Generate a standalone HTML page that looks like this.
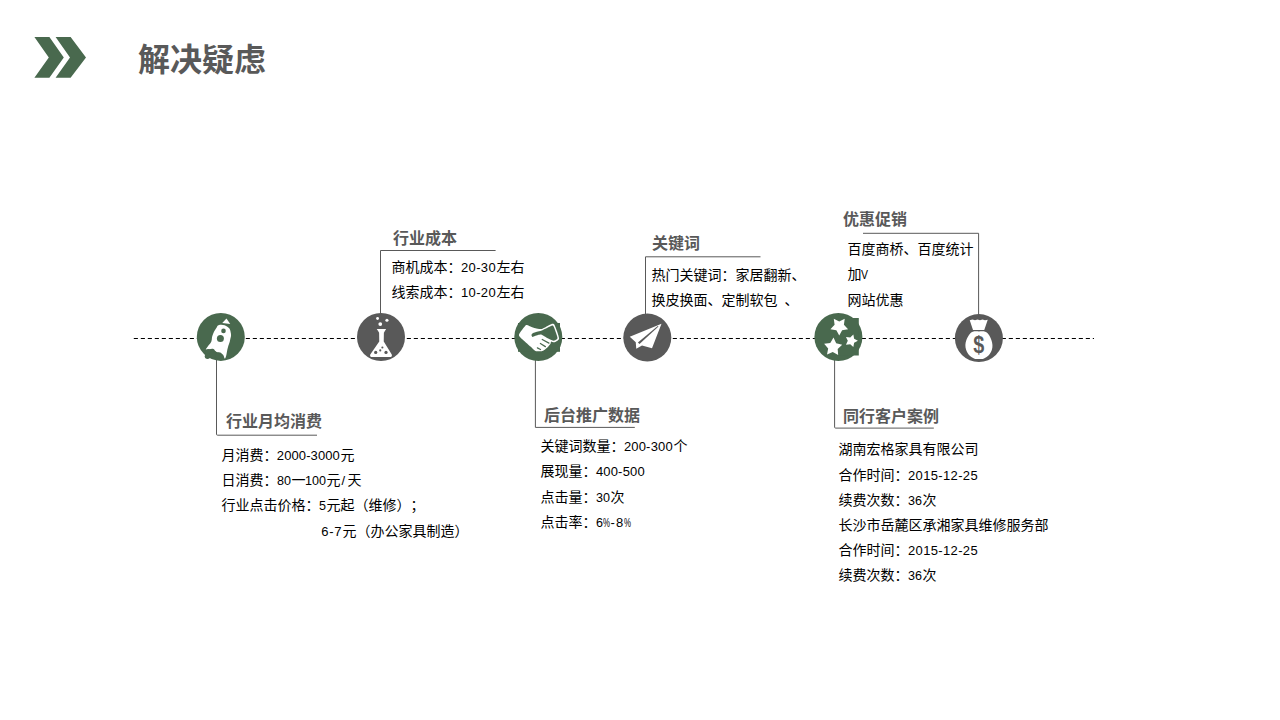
<!DOCTYPE html>
<html lang="zh-CN"><head><meta charset="utf-8"><title>解决疑虑</title>
<style>
html,body{margin:0;padding:0;background:#fff}
body{text-spacing-trim:space-all;font-kerning:none;width:1280px;height:720px;position:relative;overflow:hidden;font-family:"Liberation Sans","Noto Sans CJK SC",sans-serif;color:#000}
#art{position:absolute;left:0;top:0;width:1280px;height:720px}
.title{position:absolute;left:138px;top:37px;margin:0;font-size:32px;line-height:46px;font-weight:bold;color:#595959;white-space:nowrap}
.h{position:absolute;margin:0;font-size:16px;line-height:22px;font-weight:bold;color:#595959;white-space:nowrap}
.t{position:absolute;margin:0;font-size:14px;line-height:20px;white-space:nowrap;color:#000;word-spacing:3.1px}
.a{display:inline-block;position:relative;left:-.7px;font-family:"Liberation Sans",sans-serif;font-size:13px;line-height:20px;transform-origin:0 50%;white-space:nowrap;vertical-align:baseline}
</style></head><body>
<svg id="art" width="1280" height="720" viewBox="0 0 1280 720">
<!-- chevrons -->
<g fill="#49694e">
<path d="M34.4 37H49.4L63.8 57.4L49.4 77.8H34.4L48.8 57.4Z"/>
<path d="M55.6 37H70.6L86 57.4L70.6 77.8H55.6L70 57.4Z"/>
</g>
<!-- dashed timeline -->
<line x1="133.8" y1="338.5" x2="1094" y2="338.5" stroke="#000" stroke-width="1.15" stroke-dasharray="4.1 2.9"/>
<!-- connectors -->
<g fill="none" stroke="#595959" stroke-width="1">
<path d="M216.5 358V434.2Q216.5 435.2 217.5 435.2H317"/>
<path d="M380.5 314V250.5H495.6"/>
<path d="M535.4 358V427.4H634.8"/>
<path d="M645.5 316V256.8H760.5"/>
<path d="M834.6 358V427.1Q834.6 428.1 835.6 428.1H933.8"/>
<path d="M863 233.3H978.6V316"/>
</g>
<g id="rocket">
<circle cx="220.8" cy="336.9" r="24" fill="#49694e"/>
<path fill="#fff" d="M226.5 318.38L230.25 323.88L222.25 323Z"/>
<path fill="#fff" d="M220 324.75C222.74 324.40 225.21 325.02 227.75 327.00C230.29 328.98 230.35 330.10 230.88 333.25C231.41 336.40 230.73 337.06 230.00 340.50C229.27 343.94 228.86 343.86 227.75 348.00C226.64 352.14 226.47 356.79 225.25 358.25C224.03 359.71 224.60 355.77 222.50 354.25C220.40 352.73 218.53 353.03 216.25 351.75C213.97 350.47 215.08 349.16 212.75 348.75C210.42 348.34 207.42 350.52 206.25 350.00C205.08 349.48 206.58 348.43 207.75 346.50C208.92 344.57 210.14 344.32 211.25 341.75C212.36 339.18 211.39 338.59 212.50 335.50C213.61 332.41 214.25 331.01 216.00 328.50C217.75 325.99 217.26 325.10 220.00 324.75Z"/>
<circle cx="223.5" cy="330.875" r="2.3" fill="#49694e"/>
<circle cx="220.375" cy="338.375" r="3.5" fill="#49694e"/>
<circle cx="208.25" cy="352.75" r="3.75" fill="#49694e"/>
<circle cx="213.125" cy="354.5" r="3.75" fill="#49694e"/>
<circle cx="218.75" cy="355.5" r="3.25" fill="#49694e"/>
<circle cx="207.5" cy="356.125" r="2.75" fill="#49694e"/>
</g>
<g id="flask">
<circle cx="381" cy="337" r="24" fill="#595959"/>
<circle cx="377.562" cy="318.5" r="1.4375" fill="#fff"/>
<circle cx="386.938" cy="320.25" r="1.5625" fill="#fff"/>
<circle cx="380.25" cy="324" r="1.875" fill="#fff"/>
<path fill="#fff" d="M376.75 329L386.12 329L384.75 331.19L383.88 332.75L383.75 341.5L391.75 354.62L391.94 356L391 357L371 357L370.06 356L370.25 354.62L379.25 341.5L379.12 332.75L378.25 331.19Z"/>
<circle cx="375.688" cy="352.438" r="1.625" fill="#595959"/>
<circle cx="386" cy="352.438" r="1.625" fill="#595959"/>
<circle cx="382.375" cy="347.438" r="1.0625" fill="#595959"/>
<circle cx="380.25" cy="350.375" r="1.0625" fill="#595959"/>
</g>
<g id="hands">
<circle cx="538.3" cy="337" r="24" fill="#49694e"/>
<rect x="518" y="323" width="42" height="28.8" fill="#49694e"/>
<path fill="#fff" d="M518.94 334.94C519.13 333.36 524.96 325.98 526.12 325.12C527.28 324.26 529.56 326.07 530.50 326.38C531.44 326.69 534.38 328.00 535.50 328.25C536.62 328.50 540.19 329.29 541.75 328.88C543.31 328.47 549.84 324.58 551.12 324.19C552.40 323.80 553.76 323.52 554.56 324.94C555.36 326.36 559.15 336.65 559.12 338.38C559.09 340.11 555.05 341.94 554.25 342.25C553.45 342.56 551.50 341.36 551.12 341.50C550.75 341.64 550.87 343.10 550.50 343.69C550.13 344.28 548.19 346.71 547.38 347.44C546.57 348.17 543.57 350.64 542.38 351.00C541.19 351.36 536.69 351.45 535.50 351.00C534.31 350.55 531.62 347.51 530.50 346.50C529.38 345.49 525.41 342.04 524.25 340.88C523.09 339.72 518.75 336.52 518.94 334.94Z"/>
<path fill="#49694e" d="M551.62 325.75C552.68 325.42 553.03 325.39 553.62 326.62C554.21 327.85 557.49 336.65 557.50 338.06C557.51 339.47 554.58 340.66 553.75 340.75C552.92 340.84 550.20 339.46 549.25 339.00C548.30 338.54 545.06 336.63 544.25 336.19C543.44 335.75 541.75 334.75 541.12 334.62C540.50 334.50 538.62 334.80 538.00 334.94C537.38 335.08 535.43 335.81 534.88 336.00C534.33 336.19 532.84 336.99 532.50 336.88C532.16 336.77 531.39 335.32 531.44 334.94C531.49 334.56 532.34 333.40 533.00 333.06C533.66 332.72 537.00 331.81 538.00 331.50C539.00 331.19 541.64 330.51 543.00 329.94C544.36 329.37 550.56 326.08 551.62 325.75Z"/>
<g stroke="#49694e" stroke-width="1.2" fill="none" stroke-linecap="round">
<path d="M542.25 339.5L548.94 343.12"/>
<path d="M540.38 343.5L545.38 346.62"/>
<path d="M537.38 347.88L540.5 349.5"/>
</g></g>
<g id="plane">
<circle cx="647.3" cy="337.6" r="24" fill="#595959"/>
<path fill="#fff" d="M661.5 323.75L629.75 336.75L635.75 342.25L636.25 348.75L642 345.5L652 348.25Z"/>
<path fill="#595959" d="M637.88 342.5L639.5 343.88L658.5 326.5L657.75 325.88Z"/>
</g>
<g id="stars">
<circle cx="838.4" cy="337" r="24" fill="#49694e"/>
<rect x="826" y="318" width="32.8" height="37.5" fill="#49694e"/>
<path fill="#fff" d="M839.25 335.6L836.37 330.26L830.41 329.17L834.59 324.79L833.78 318.78L839.25 321.4L844.72 318.78L843.91 324.79L848.09 329.17L842.13 330.26Z"/>
<path fill="#fff" d="M853.34 334.52L854.13 338.74L857.9 340.8L854.13 342.86L853.34 347.08L850.22 344.13L845.96 344.68L847.8 340.8L845.96 336.92L850.22 337.47Z"/>
<path fill="#fff" d="M833.5 337.61L836.15 343.21L842.18 344.64L837.67 348.89L838.17 355.07L832.74 352.09L827.02 354.48L828.17 348.39L824.13 343.7L830.28 342.91Z"/>
</g>
<g id="bag">
<circle cx="978.9" cy="338.1" r="24" fill="#595959"/>
<path fill="#fff" d="M969.75 320.25L972.5 319.5L975 320.25L977.5 319.5L980 320.25L982.5 319.5L985 320.25L987.75 319.75L984.25 330L973 330Z"/>
<path fill="#fff" d="M979 331.38C981.08 331.38 983.58 331.15 985.25 331.75C986.92 332.35 987.98 333.62 989.00 335.00C990.02 336.38 990.81 338.33 991.38 340.00C991.95 341.67 992.37 343.33 992.44 345.00C992.51 346.67 992.38 348.33 991.81 350.00C991.24 351.67 990.30 353.59 989.00 355.00C987.70 356.41 985.67 357.75 984.00 358.44C982.33 359.13 980.67 359.12 979.00 359.12C977.33 359.12 975.67 359.13 974.00 358.44C972.33 357.75 970.30 356.41 969.00 355.00C967.70 353.59 966.79 351.67 966.19 350.00C965.59 348.33 965.35 346.67 965.38 345.00C965.41 343.33 965.78 341.67 966.38 340.00C966.98 338.33 967.94 336.38 969.00 335.00C970.06 333.62 971.08 332.35 972.75 331.75C974.42 331.15 976.92 331.38 979.00 331.38Z"/>
<text transform="translate(978.875 352.75) scale(0.86 1)" x="0" y="0" text-anchor="middle" font-family="Liberation Sans, sans-serif" font-weight="bold" font-size="23" fill="#595959">$</text>
</g>
</svg>
<h1 class="title">解决疑虑</h1>
<section>
<h2 class="h" style="left:226px;top:410.5px">行业月均消费</h2>
<p class="t" style="left:221.5px;top:445px">月消费：<span class="a" style="width:63px;letter-spacing:0.09px;text-indent:0.05px">2000-3000</span>元</p>
<p class="t" style="left:221.5px;top:470px">日消费：<span class="a" style="width:14px;transform:scaleX(0.9682)">80</span>一<span class="a" style="width:21px;transform:scaleX(0.9682)">100</span>元<span class="a" style="width:7px;letter-spacing:3.39px;text-indent:1.69px">/</span>天</p>
<p class="t" style="left:221.5px;top:495px">行业点击价格：<span class="a" style="width:7px;transform:scaleX(0.9682)">5</span>元起（维修）；</p>
<p class="t" style="left:321.5px;top:521px"><span class="a" style="width:21px;letter-spacing:0.74px;text-indent:0.37px">6-7</span>元（办公家具制造）</p>
</section>
<section>
<h2 class="h" style="left:393px;top:227.5px">行业成本</h2>
<p class="t" style="left:391.5px;top:257px">商机成本：<span class="a" style="width:35px;letter-spacing:0.35px;text-indent:0.18px">20-30</span>左右</p>
<p class="t" style="left:391.5px;top:282px">线索成本：<span class="a" style="width:35px;letter-spacing:0.35px;text-indent:0.18px">10-20</span>左右</p>
</section>
<section>
<h2 class="h" style="left:544px;top:404.5px">后台推广数据</h2>
<p class="t" style="left:540.5px;top:436px">关键词数量：<span class="a" style="width:49px;letter-spacing:0.18px;text-indent:0.09px">200-300</span>个</p>
<p class="t" style="left:540.5px;top:461px">展现量：<span class="a" style="width:49px;letter-spacing:0.18px;text-indent:0.09px">400-500</span></p>
<p class="t" style="left:540.5px;top:487px">点击量：<span class="a" style="width:14px;transform:scaleX(0.9682)">30</span>次</p>
<p class="t" style="left:540.5px;top:512px">点击率：<span class="a" style="width:7px;transform:scaleX(0.9682)">6</span><span class="a" style="width:7px;transform:scaleX(0.6056)">%</span><span class="a" style="width:14px;letter-spacing:1.22px;text-indent:0.61px">-8</span><span class="a" style="width:7px;transform:scaleX(0.6056)">%</span></p>
</section>
<section>
<h2 class="h" style="left:652px;top:232.5px">关键词</h2>
<p class="t" style="left:651.5px;top:265px">热门关键词：家居翻新、</p>
<p class="t" style="left:651.5px;top:290px">换皮换面、定制软包 、</p>
</section>
<section>
<h2 class="h" style="left:843px;top:405.5px">同行客户案例</h2>
<p class="t" style="left:838.5px;top:439px">湖南宏格家具有限公司</p>
<p class="t" style="left:838.5px;top:465px">合作时间：<span class="a" style="width:70px;letter-spacing:0.35px;text-indent:0.18px">2015-12-25</span></p>
<p class="t" style="left:838.5px;top:490px">续费次数：<span class="a" style="width:14px;transform:scaleX(0.9682)">36</span>次</p>
<p class="t" style="left:838.5px;top:515px">长沙市岳麓区承湘家具维修服务部</p>
<p class="t" style="left:838.5px;top:540px">合作时间：<span class="a" style="width:70px;letter-spacing:0.35px;text-indent:0.18px">2015-12-25</span></p>
<p class="t" style="left:838.5px;top:565px">续费次数：<span class="a" style="width:14px;transform:scaleX(0.9682)">36</span>次</p>
</section>
<section>
<h2 class="h" style="left:843px;top:208.5px">优惠促销</h2>
<p class="t" style="left:847.5px;top:239px">百度商桥、百度统计</p>
<p class="t" style="left:847.5px;top:264px">加<span class="a" style="width:7px;transform:scaleX(0.8073)">V</span></p>
<p class="t" style="left:847.5px;top:290px">网站优惠</p>
</section>
</body></html>
